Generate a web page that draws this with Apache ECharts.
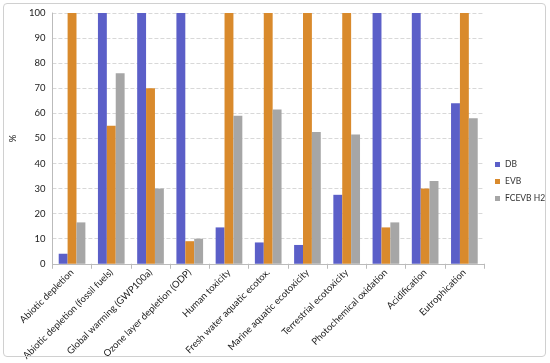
<!DOCTYPE html>
<html><head><meta charset="utf-8">
<script src="https://cdn.jsdelivr.net/npm/echarts@6/dist/echarts.min.js"></script>
<style>html,body{margin:0;padding:0;background:#fff}#c{width:550px;height:363px;position:relative}
#frame{position:absolute;left:3px;top:3px;width:543px;height:354px;border:1px solid #d0d0d0;border-radius:4px;box-sizing:border-box;pointer-events:none}</style>
</head><body><div id="c"></div><div id="frame" style="position:absolute"></div>
<script>
const categories = ["Abiotic depletion","Abiotic depletion (fossil fuels)","Global warming (GWP100a)","Ozone layer depletion (ODP)","Human toxicity","Fresh water aquatic ecotox.","Marine aquatic ecotoxicity","Terrestrial ecotoxicity","Photochemical oxidation","Acidification","Eutrophication"];
const seriesNames = ["DB","EVB","FCEVB H2"];
const dbValues = [4,100,100,100,14.5,8.5,7.5,27.5,100,100,64];
const evbValues = [100,55,70,9,100,100,100,100,14.5,30,100];
const fcevbValues = [16.5,76,30,10,59,61.5,52.5,51.5,16.5,33,58];
const yTicks = [0,10,20,30,40,50,60,70,80,90,100];

const colors = ["#5B5FC8","#D98A2C","#A6A6A6"];
const chart = echarts.init(document.getElementById('c'));
const font = "Lato, Open Sans, sans-serif";
chart.setOption({
  animation:false,
  color:colors,
  textStyle:{fontFamily:font},
  grid:{left:46,right:66,top:13,bottom:98},
  legend:{orient:'vertical',left:495,top:160,padding:0,itemWidth:5,itemHeight:5,itemGap:8,icon:'rect',
    textStyle:{fontSize:8.5,color:'#333',fontFamily:font},data:seriesNames},
  xAxis:{type:'category',data:categories,
    axisLine:{lineStyle:{color:'#bbb'}},axisTick:{show:true,lineStyle:{color:'#bbb'}},
    axisLabel:{rotate:45,interval:0,fontSize:9.5,color:'#222',margin:7}},
  yAxis:{type:'value',min:0,max:100,interval:10,name:'%',nameLocation:'middle',nameGap:29,
    nameTextStyle:{fontSize:9.5,color:'#222'},nameRotate:90,
    axisLine:{show:true,lineStyle:{color:'#bbb'}},
    axisLabel:{fontSize:9.5,color:'#222',margin:7,formatter:v=>yTicks.includes(v)?String(v):''},
    splitLine:{lineStyle:{color:'#d8d8d8',type:'dashed'}}},
  series:[
    {name:seriesNames[0],type:'bar',data:dbValues,barGap:'0%',barCategoryGap:'32%'},
    {name:seriesNames[1],type:'bar',data:evbValues},
    {name:seriesNames[2],type:'bar',data:fcevbValues}
  ]
});
</script></body></html>
